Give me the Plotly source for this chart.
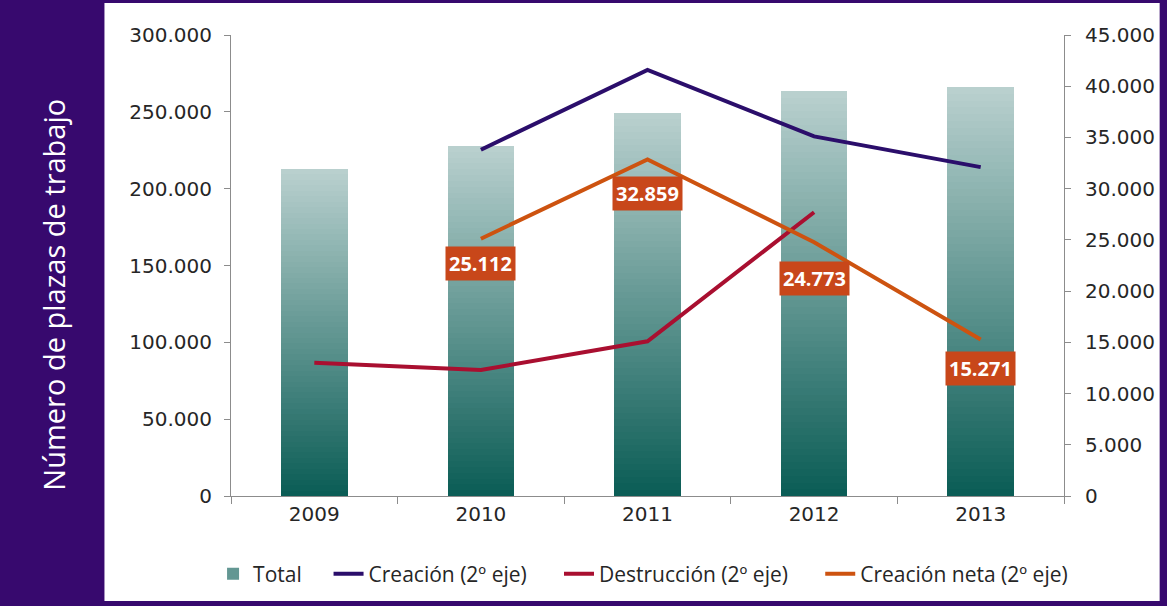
import plotly.graph_objects as go

# ---------------- data ----------------
years = ["2009", "2010", "2011", "2012", "2013"]
total = [212800, 227800, 249200, 263600, 266200]

creacion_years = ["2010", "2011", "2012", "2013"]
creacion = [33800, 41600, 35100, 32100]

destruccion_years = ["2009", "2010", "2011", "2012"]
destruccion = [13000, 12300, 15100, 27700]

neta_years = ["2010", "2011", "2012", "2013"]
neta = [25112, 32859, 24773, 15271]

# ---------------- styles ----------------
W, H = 1167, 606
ML, MR, MT, MB = 231, 100, 35, 110
PW, PH = W - ML - MR, H - MT - MB
PURPLE = "#37096E"
TICK_FONT = dict(family="DejaVu Sans", size=20, color="#262626")
AXIS_GRAY = "#8C8C8C"
NB = "\u00a0"

def px_x(p):
    return (p - ML) / PW

def px_y(p):
    return (H - MB - p) / PH

def lerp_color(c0, c1, t):
    a = [int(c0[i:i + 2], 16) for i in (1, 3, 5)]
    b = [int(c1[i:i + 2], 16) for i in (1, 3, 5)]
    return "rgb(%d,%d,%d)" % tuple(round(a[k] + (b[k] - a[k]) * t) for k in range(3))

BAR_BOTTOM = "#0A5C55"
BAR_TOP = "#BAD1CF"
N_SEG = 60

fig = go.Figure()

# gradient bars as stacked slices of each total
for i in range(N_SEG):
    t = (i + 0.5) / N_SEG
    fig.add_trace(go.Bar(
        x=years, y=[v / N_SEG for v in total],
        width=0.4,
        marker=dict(color=lerp_color(BAR_BOTTOM, BAR_TOP, t), line=dict(width=0)),
        name="Total" + NB * 4, legendgroup="Total",
        showlegend=(i == N_SEG // 2),
        hoverinfo="skip",
    ))

fig.add_trace(go.Scatter(x=creacion_years, y=creacion, yaxis="y2", mode="lines",
                         line=dict(color="#2B0E6B", width=4), name="Creación (2º eje)" + NB * 5))
fig.add_trace(go.Scatter(x=destruccion_years, y=destruccion, yaxis="y2", mode="lines",
                         line=dict(color="#A90F30", width=4), name="Destrucción (2º eje)" + NB * 5))
fig.add_trace(go.Scatter(x=neta_years, y=neta, yaxis="y2", mode="lines",
                         line=dict(color="#CD5310", width=4), name="Creación neta (2º eje)"))

# data labels for Creación neta (category axis -> use category index)
label_shift = [-25, -34, -36, -29]
annotations = []
for xv, yv, s in zip(neta_years, neta, label_shift):
    annotations.append(dict(
        x=years.index(xv), y=yv, xref="x", yref="y2", yshift=s,
        text="<b>" + f"{yv:,}".replace(",", ".") + "</b>", showarrow=False,
        font=dict(family="Open Sans", size=20, color="white"),
        bgcolor="#C8471A", borderpad=3,
    ))

# rotated title in the purple band
annotations.append(dict(
    x=px_x(52), y=px_y(295), xref="paper", yref="paper",
    text="Número de plazas de trabajo", textangle=-90, showarrow=False,
    font=dict(family="Open Sans", size=29, color="white"),
    xanchor="center", yanchor="middle",
))

shapes = [dict(
    type="rect", xref="paper", yref="paper", layer="below",
    x0=px_x(104), x1=px_x(1163), y0=px_y(601), y1=px_y(3),
    fillcolor="white", line=dict(width=0),
)]

fig.update_layout(
    width=W, height=H,
    margin=dict(l=ML, r=MR, t=MT, b=MB),
    paper_bgcolor=PURPLE, plot_bgcolor="white",
    barmode="stack", bargap=0,
    separators=",.",
    showlegend=True,
    legend=dict(orientation="h", x=px_x(213), y=px_y(574), xanchor="left", yanchor="middle",
                font=dict(family="Open Sans", size=21, color="#262626"),
                bgcolor="rgba(0,0,0,0)", itemwidth=30, tracegroupgap=0,
                traceorder="normal"),
    xaxis=dict(type="category", range=[-0.5, 4.5], tickson="boundaries",
               ticks="outside", ticklen=7, tickcolor=AXIS_GRAY,
               showline=True, linecolor=AXIS_GRAY, linewidth=1,
               showgrid=False, tickfont=TICK_FONT, fixedrange=True),
    yaxis=dict(range=[0, 300000], dtick=50000, tickformat=",.0f",
               ticks="outside", ticklen=6, tickcolor=AXIS_GRAY,
               showline=True, linecolor=AXIS_GRAY, linewidth=1,
               showgrid=False, zeroline=False, tickfont=TICK_FONT,
               ticklabelstandoff=8),
    yaxis2=dict(range=[0, 45000], dtick=5000, tickformat=",.0f", overlaying="y",
                side="right", ticks="outside", ticklen=6, tickcolor=AXIS_GRAY,
                showline=True, linecolor=AXIS_GRAY, linewidth=1,
                showgrid=False, zeroline=False, tickfont=TICK_FONT,
                ticklabelstandoff=10),
    annotations=annotations,
    shapes=shapes,
)

fig.write_html("out.html", config={"displayModeBar": False},
               post_script="document.body.style.margin='0';document.body.style.overflow='hidden';")
